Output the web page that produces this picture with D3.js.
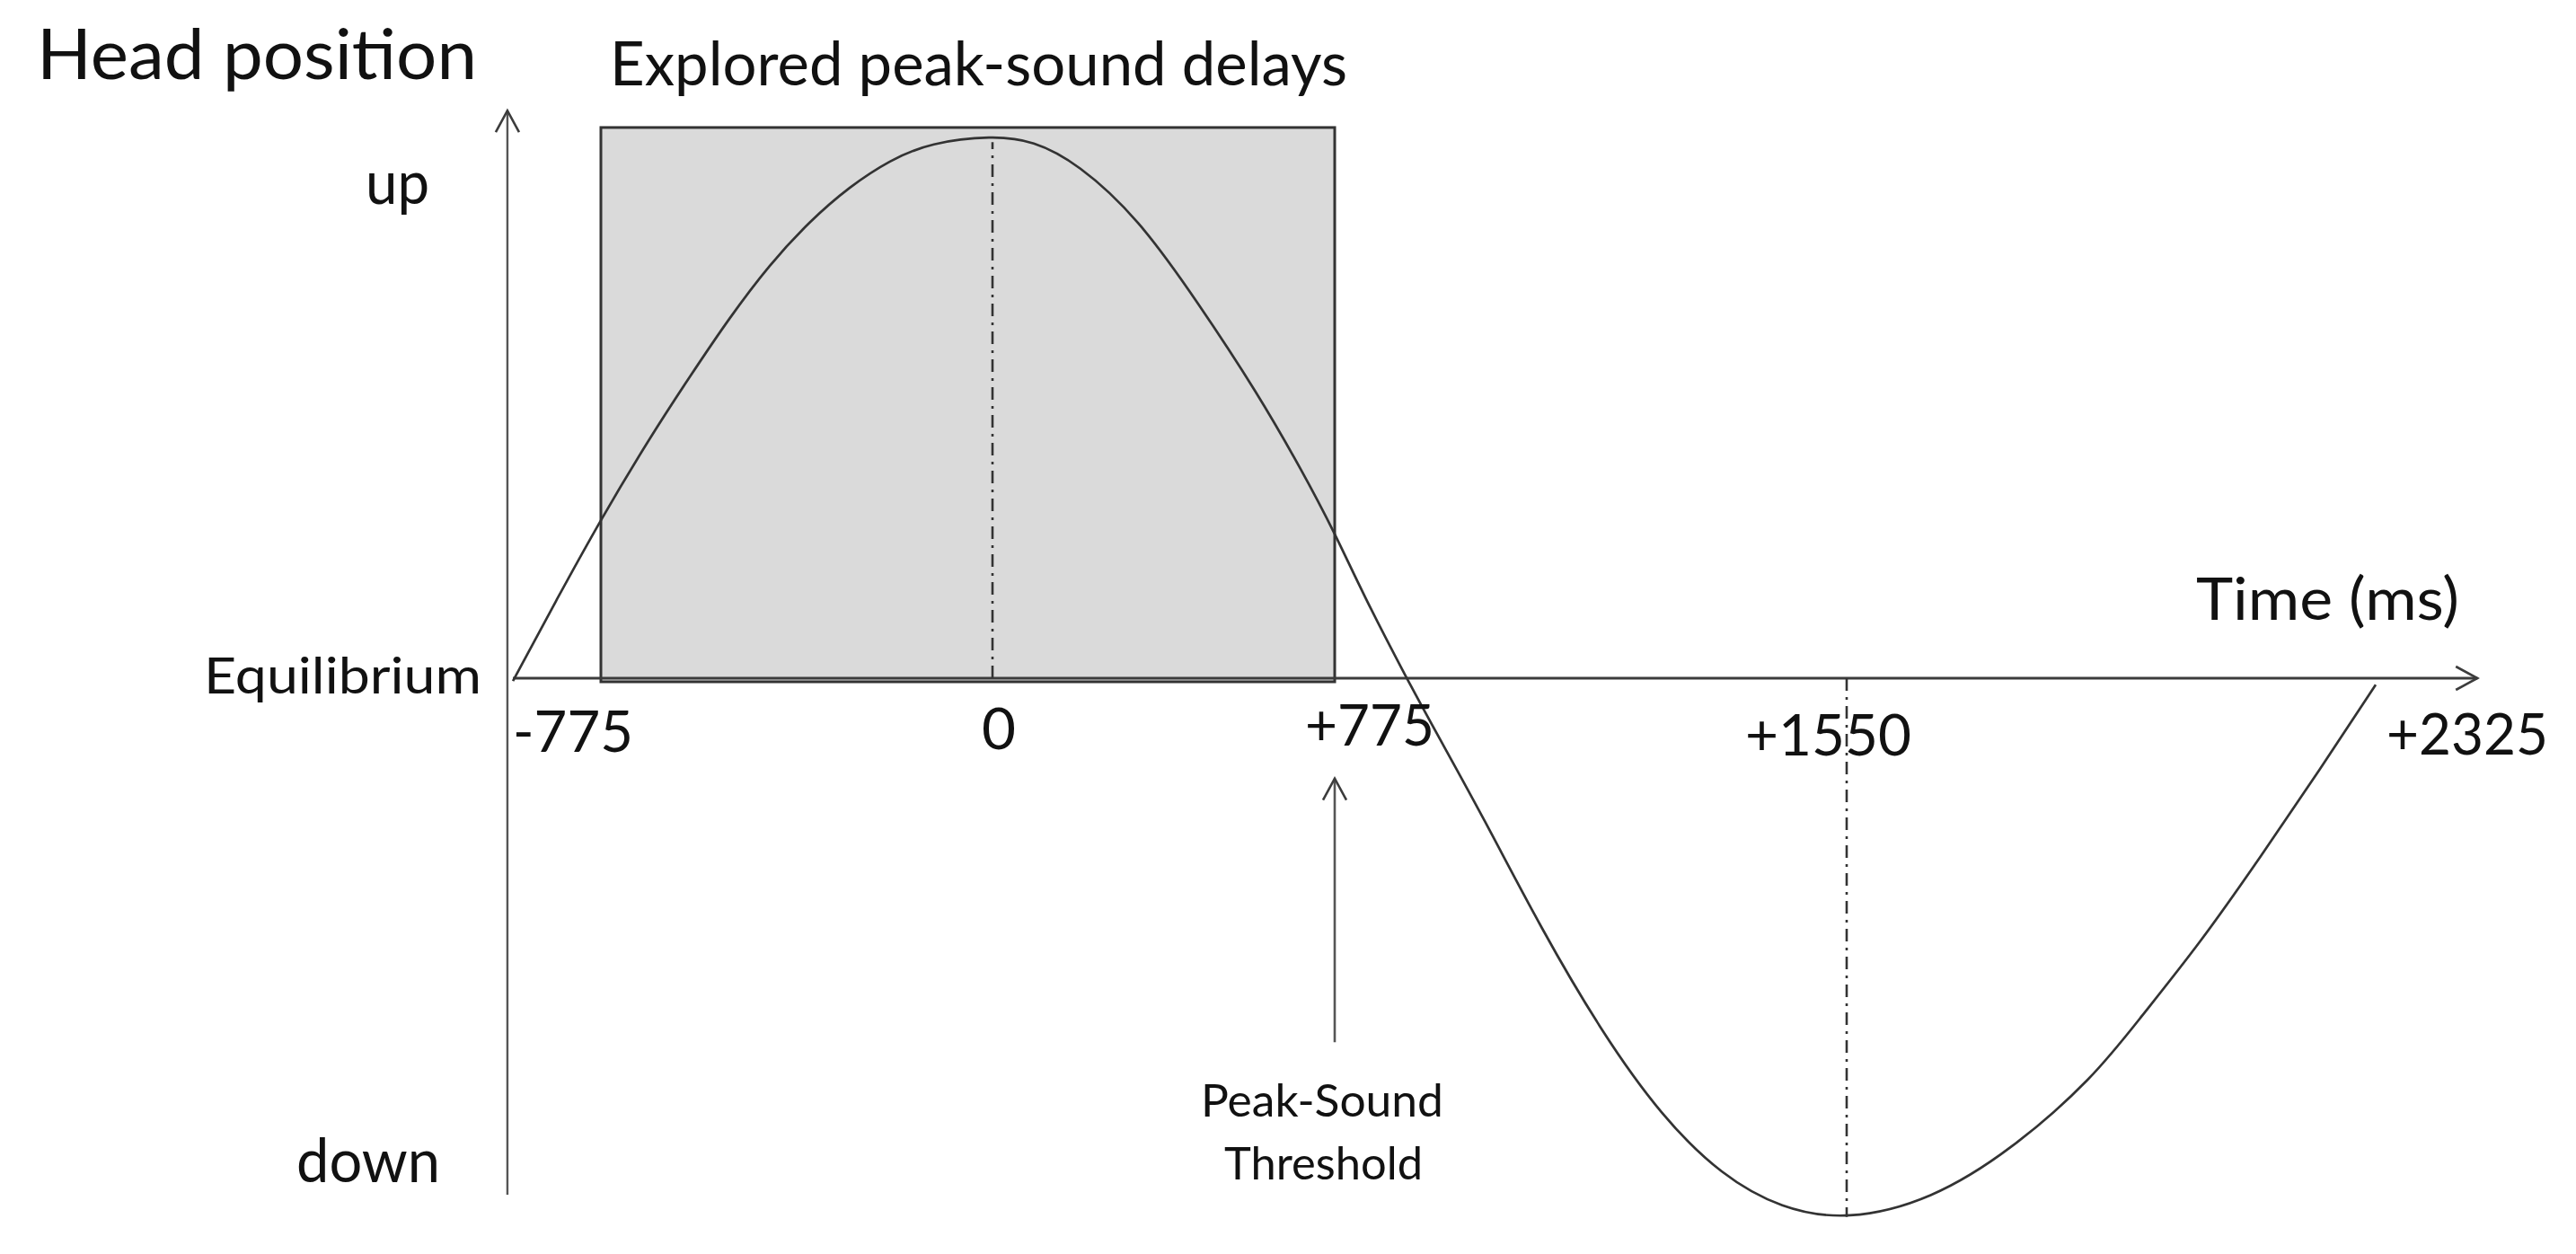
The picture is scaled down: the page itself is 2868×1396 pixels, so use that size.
<!DOCTYPE html>
<html>
<head>
<meta charset="utf-8">
<script src="https://cdn.jsdelivr.net/npm/d3@7"></script>
<style>
  html, body { margin: 0; background: #fff; }
  svg { display: block; font-family: Lato, "Open Sans", sans-serif; }
</style>
</head>
<body>
<div id="base"></div>
<script>
/* global d3 */

// time axis ticks (ms)
var tickValues = [-775, 0, 775, 1550, 2325];
var tickLabels = ["-775", "0", "+775", "+1550", "+2325"];

// head trajectory: time (ms) and position (up = 1, equilibrium = 0, down = -1)
var curveTime = [-949, -862, -775, -679, -599, -521, -441, -361, -283, -203, -123,
  0, 92, 193, 330, 464, 600, 702, 775,
  817, 885, 930, 998, 1089, 1179, 1270, 1361, 1451, 1550,
  1674, 1792, 1911, 1980, 2068, 2157, 2243, 2325];
var curvePos = [-0.005, 0.146, 0.293, 0.442, 0.556, 0.664, 0.763, 0.843, 0.906, 0.955, 0.987,
  1.0, 0.991, 0.949, 0.848, 0.694, 0.526, 0.381, 0.268,
  0.157, -0.003, -0.103, -0.252, -0.465, -0.652, -0.808, -0.917, -0.978, -1.0,
  -0.962, -0.869, -0.737, -0.626, -0.488, -0.328, -0.169, -0.012];

// shaded window of explored peak-sound delays
var exploredDelays = [-775, 775];
var exploredTop = 1.015;

// dash-dot markers at peak and trough
var markerTimes = [0, 1550];
var markerPos = [0.988, -0.993];

// peak-sound threshold arrow
var thresholdTime = 775;
var thresholdPos = [-0.185, -0.671];

// axis extents
var timeAxisRange = [-949, 2474];
var posAxisTime = -960;
var posAxisRange = [-0.952, 1.046];

// y labels
var posLabels = ["up", "Equilibrium", "down"];

// ---- layout / style ----
const width = 2868;
const height = 1396;
const ink = "#111";
const lineColor = "#3c3c3c";
const fillColor = "#dadada";

// text boxes: left x, baseline, font size, fitted width
var tickLabelDx = [-98, -12, -33, -113, 12];
var tickLabelBase = [837, 834, 830, 841, 840];
var tickLabelWidth = [134, 38, 144, 185, 180];
var posLabelBox = [[407, 227, 67, 71], [227, 772, 56, 309], [330, 1316, 67, 160]];

// time -> px, anchored on the drawn landmarks (the sketch is not to scale)
const x = d3.scaleLinear().domain(tickValues).range([669, 1105, 1486, 2056, 2645]);
const y = d3.scaleLinear().domain([-1, 1]).range([1359, 151]);

const svg = d3.select("#base").append("svg")
    .attr("width", width)
    .attr("height", height);

function label(txt, x0, base, size, w) {
  return svg.append("text")
      .attr("x", x0)
      .attr("y", base)
      .attr("font-size", size)
      .attr("fill", ink)
      .attr("textLength", w)
      .attr("lengthAdjust", "spacingAndGlyphs")
      .text(txt);
}

function arrowHead(tx, ty, dir) {
  // open chevron, dir = "right" or "up"
  const l = 24, h = 13;
  const p = dir === "right"
    ? [[tx - l, ty - h], [tx, ty], [tx - l, ty + h]]
    : [[tx - h, ty + l], [tx, ty], [tx + h, ty + l]];
  svg.append("path")
      .attr("d", d3.line()(p))
      .attr("fill", "none")
      .attr("stroke", lineColor)
      .attr("stroke-width", 2.6);
}

// explored window
svg.append("rect")
    .attr("x", x(exploredDelays[0]))
    .attr("y", y(exploredTop))
    .attr("width", x(exploredDelays[1]) - x(exploredDelays[0]))
    .attr("height", y(0) - y(exploredTop) + 4)
    .attr("fill", fillColor)
    .attr("stroke", "#333")
    .attr("stroke-width", 3);

// time axis
svg.append("line")
    .attr("x1", x(timeAxisRange[0])).attr("x2", x(timeAxisRange[1]))
    .attr("y1", y(0)).attr("y2", y(0))
    .attr("stroke", lineColor).attr("stroke-width", 2.8);
arrowHead(x(timeAxisRange[1]), y(0), "right");

// position axis
svg.append("line")
    .attr("x1", x(posAxisTime)).attr("x2", x(posAxisTime))
    .attr("y1", y(posAxisRange[0])).attr("y2", y(posAxisRange[1]))
    .attr("stroke", "#555").attr("stroke-width", 2.4);
arrowHead(x(posAxisTime), y(posAxisRange[1]), "up");

// dash-dot markers
svg.append("g")
  .selectAll("line")
  .data(markerTimes)
  .join("line")
    .attr("x1", d => x(d)).attr("x2", d => x(d))
    .attr("y1", y(0))
    .attr("y2", (d, i) => y(markerPos[i]))
    .attr("stroke", "#333")
    .attr("stroke-width", 2.6)
    .attr("stroke-dasharray", "14,7,3,7");

// head trajectory, smoothed through the read points
const pts = curveTime.map((t, i) => [t, curvePos[i]]);
svg.append("path")
    .attr("d", d3.line().x(d => x(d[0])).y(d => y(d[1])).curve(d3.curveBasis)(pts))
    .attr("fill", "none")
    .attr("stroke", "#333")
    .attr("stroke-width", 2.7);

// threshold arrow
svg.append("line")
    .attr("x1", x(thresholdTime)).attr("x2", x(thresholdTime))
    .attr("y1", y(thresholdPos[0])).attr("y2", y(thresholdPos[1]))
    .attr("stroke", "#555").attr("stroke-width", 2.6);
arrowHead(x(thresholdTime), y(thresholdPos[0]), "up");

// tick labels
tickValues.forEach((v, i) => {
  label(tickLabels[i], x(v) + tickLabelDx[i], tickLabelBase[i], 64, tickLabelWidth[i]);
});

// position labels
posLabels.forEach((t, i) => {
  const b = posLabelBox[i];
  label(t, b[0], b[1], b[2], b[3]);
});

// titles and notes
label("Head position", 41, 88, 77, 490);
label("Explored peak-sound delays", 679, 95, 67, 821);
label("Time (ms)", 2445, 690, 66, 293);
label("Peak-Sound", 1337, 1243, 50, 270);
label("Threshold", 1363, 1313, 50, 221);
</script>
</body>
</html>
